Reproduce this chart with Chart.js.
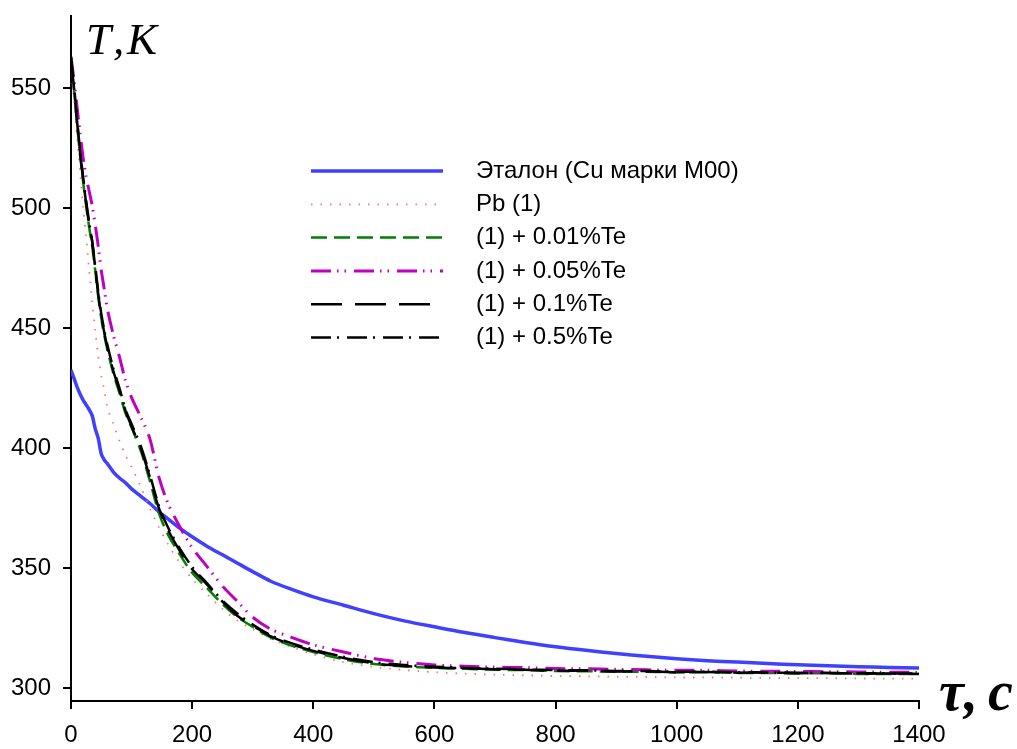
<!DOCTYPE html>
<html>
<head>
<meta charset="utf-8">
<script src="https://cdn.jsdelivr.net/npm/chart.js@4"></script>
<style>
  html, body { margin: 0; padding: 0; background: #fff; }
  #wrap { width: 1017px; height: 749px; }
</style>
</head>
<body>
<div id="wrap"><canvas id="cooling" width="1017" height="749"></canvas></div>
<script>
// time, s
var tau = [0, 5, 10, 15, 20, 25, 30, 35, 40, 45, 50, 55, 60,
           70, 80, 90, 100,
           115, 130, 145, 160, 180, 200,
           225, 250, 275, 300, 330, 360, 400,
           450, 500, 550,
           600, 650, 700, 750, 800, 850, 900, 950, 1000, 1050, 1100, 1150, 1200, 1250, 1300, 1350, 1400];

// temperature, K
var etalon = [432.5, 429, 425.5, 422.5, 420, 418, 416, 413.5, 408, 404, 397.5, 395, 393.5,
              390, 387.5, 385.5, 383,
              380, 377, 373.5, 370.5, 366.5, 363,
              359, 355.5, 352, 348.5, 344.5, 341.5, 338,
              334.5, 331, 328,
              325.5, 323.1, 321.0, 319.0, 317.2, 315.7, 314.4, 313.2, 312.2, 311.4, 310.8, 310.2, 309.7, 309.3, 308.9, 308.6, 308.3];
var pb = [560, 545, 530, 515, 500, 488, 474, 461, 449, 438, 430, 424, 417,
          410, 403, 397, 392,
          384, 375, 367, 360, 352, 345.5,
          339, 333, 328, 324.5, 320.5, 317.5, 314,
          310.8, 308.8, 307.5,
          306.6, 306.0, 305.6, 305.3, 305.0, 304.9, 304.7, 304.6, 304.4, 304.4, 304.3, 304.2, 304.1, 304.1, 304.0, 303.9, 303.9];
var te001 = [561, 549, 535, 522, 511, 501, 492, 484, 474, 463, 454, 447, 441,
             431, 423, 414.5, 408.5,
             399, 386.5, 373, 364, 355.5, 348,
             341.5, 335, 329.5, 325.5, 321, 318, 315,
             312, 310, 309,
             308.4, 308.0, 307.6, 307.5, 307.1, 307.0, 306.8, 306.8, 306.5, 306.6, 306.3, 306.3, 306.1, 306.2, 305.9, 305.9, 305.8];
var te005 = [563, 553, 542, 531, 521, 513, 507, 501, 493, 484, 474, 466, 458,
             447, 438, 428, 421,
             413, 404, 388, 377, 367, 358.5,
             350.5, 342.5, 336, 329.5, 324.5, 321.5, 318,
             315, 312.3, 310.7,
             309.6, 309.1, 308.7, 308.5, 308.1, 308.0, 307.8, 307.6, 307.4, 307.4, 307.1, 307.0, 306.9, 306.8, 306.7, 306.6, 306.5];
var te01 = [562, 550, 536, 523, 512, 502, 493, 486, 475, 464, 455, 448, 442,
            432, 424, 415.5, 409,
            400, 388, 375, 366, 357, 349.5,
            343, 336, 330, 326, 321.5, 318.5, 315.5,
            312.5, 310.3, 309.2,
            308.6, 308.2, 307.8, 307.6, 307.2, 307.3, 306.9, 307.0, 306.6, 306.7, 306.4, 306.5, 306.2, 306.3, 306.0, 306.1, 305.9];
var te05 = [563, 551, 537, 524, 513, 503, 494, 486, 476, 465, 456, 449, 443,
            433, 425, 416, 410,
            401, 389, 376, 367, 358, 350.5,
            343.5, 336.5, 331, 326.5, 322, 319, 316,
            313, 310.8, 309.6,
            308.9, 308.4, 308.1, 307.7, 307.5, 307.4, 307.1, 307.1, 306.8, 306.8, 306.6, 306.5, 306.4, 306.3, 306.2, 306.1, 306.0];

var names = ["Эталон (Cu марки M00)", "Pb (1)", "(1) + 0.01%Te", "(1) + 0.05%Te", "(1) + 0.1%Te", "(1) + 0.5%Te"];
var tempTicks = [300, 350, 400, 450, 500, 550];
var timeTicks = [0, 200, 400, 600, 800, 1000, 1200, 1400];

function pts(vals) {
    return tau.map(function (t, i) { return { x: t, y: vals[i] }; });
}

var styles = [
    { color: '#4040ff', width: 3.5, dash: [], order: 5 },
    { color: '#ff7070', width: 1.8, dash: [1.5, 8], order: 4 },
    { color: '#008000', width: 2.5, dash: [16, 7], order: 3 },
    { color: '#c000c0', width: 3, dash: [20, 6, 1.5, 6, 1.5, 8], order: 2 },
    { color: '#000000', width: 2.5, dash: [31, 13], order: 1 },
    { color: '#000000', width: 2.5, dash: [20, 6, 2, 8], order: 0 }
];
var series = [etalon, pb, te001, te005, te01, te05];

var datasets = series.map(function (vals, i) {
    return {
        label: names[i],
        data: pts(vals),
        borderColor: styles[i].color,
        borderWidth: styles[i].width,
        borderDash: styles[i].dash,
        pointRadius: 0,
        tension: 0.3,
        fill: false,
        order: styles[i].order
    };
});

// legend drawn by hand: long line samples with text on the right
var legendLines = {
    id: 'legendLines',
    afterDraw: function (chart) {
        var ctx = chart.ctx;
        ctx.save();
        chart.data.datasets.forEach(function (ds, i) {
            var y = 171 + i * 33.3;
            ctx.beginPath();
            ctx.setLineDash(ds.borderDash);
            ctx.lineWidth = ds.borderWidth;
            ctx.strokeStyle = ds.borderColor;
            ctx.moveTo(311, y);
            ctx.lineTo(443, y);
            ctx.stroke();
            ctx.setLineDash([]);
            ctx.fillStyle = '#000';
            ctx.font = '24px "Liberation Sans", Arial, sans-serif';
            ctx.textBaseline = 'middle';
            ctx.textAlign = 'left';
            ctx.fillText(ds.label, 476, y);
        });
        ctx.restore();
    }
};

// axis names in italic serif
var axisNames = {
    id: 'axisNames',
    afterDraw: function (chart) {
        var ctx = chart.ctx;
        ctx.save();
        ctx.fillStyle = '#000';
        ctx.textBaseline = 'alphabetic';
        ctx.textAlign = 'left';
        ctx.font = 'italic 45px "Liberation Serif", "Times New Roman", serif';
        ctx.fillText('T', 86, 54);
        ctx.fillText(',', 113, 54);
        ctx.fillText('K', 127, 54);
        ctx.font = 'italic bold 56px "Liberation Serif", "Times New Roman", serif';
        ctx.fillText('τ', 939, 710);
        ctx.fillText(',', 964, 710);
        ctx.fillText('c', 988, 710);
        ctx.restore();
    }
};

var tickFont = { family: '"Liberation Sans", Arial, sans-serif', size: 24 };

new Chart(document.getElementById('cooling').getContext('2d'), {
    type: 'line',
    data: { datasets: datasets },
    options: {
        responsive: false,
        animation: false,
        layout: { padding: { top: 16, right: 98, left: 0, bottom: 0 } },
        plugins: {
            legend: { display: false },
            tooltip: { enabled: false }
        },
        scales: {
            x: {
                type: 'linear',
                min: 0,
                max: 1400,
                afterBuildTicks: function (scale) {
                    scale.ticks = timeTicks.map(function (v) { return { value: v }; });
                },
                afterFit: function (scale) { scale.height = 48; },
                grid: { drawOnChartArea: false, drawTicks: true, tickLength: 8, color: '#000', lineWidth: 2 },
                border: { display: true, color: '#000', width: 2 },
                ticks: {
                    color: '#000', font: tickFont, padding: 12, maxRotation: 0,
                    callback: function (v) { return String(v); }
                }
            },
            y: {
                type: 'linear',
                min: 294.6,
                max: 580,
                afterBuildTicks: function (scale) {
                    scale.ticks = tempTicks.map(function (v) { return { value: v }; });
                },
                afterFit: function (scale) {
                    scale.width = 71;
                    scale.paddingTop = 0;
                    scale.paddingBottom = 0;
                },
                grid: { drawOnChartArea: false, drawTicks: true, tickLength: 8, color: '#000', lineWidth: 2 },
                border: { display: true, color: '#000', width: 2 },
                ticks: { color: '#000', font: tickFont, padding: 12 }
            }
        }
    },
    plugins: [legendLines, axisNames]
});
</script>
</body>
</html>
